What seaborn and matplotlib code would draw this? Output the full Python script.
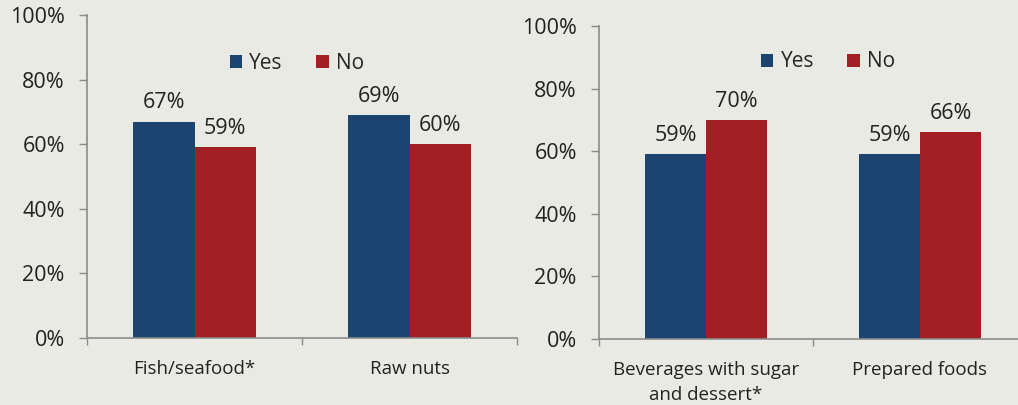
import pandas as pd
import matplotlib
matplotlib.use('Agg')
import matplotlib.pyplot as plt
import seaborn as sns

# left panel
left_categories = ['Fish/seafood*', 'Raw nuts']
left_yes = [67, 69]
left_no = [59, 60]

# right panel
right_categories = ['Beverages with sugar\nand dessert*', 'Prepared foods']
right_yes = [59, 59]
right_no = [70, 66]

groups = ['Yes', 'No']
colors = {'Yes': '#1b4471', 'No': '#a21f24'}
bg = '#e9eae4'

sns.set_theme(style='white')
plt.rcParams['font.family'] = ['Open Sans', 'DejaVu Sans']


def make_df(cats, yes, no):
    rows = []
    for c, y, n in zip(cats, yes, no):
        rows.append({'category': c, 'group': 'Yes', 'value': y})
        rows.append({'category': c, 'group': 'No', 'value': n})
    return pd.DataFrame(rows)


def draw(ax, df, legend_xy):
    ax.set_facecolor(bg)
    sns.barplot(data=df, x='category', y='value', hue='group', hue_order=groups,
                palette=colors, width=0.57, saturation=1, linewidth=0, ax=ax, legend=True)
    for cont in ax.containers:
        ax.bar_label(cont, fmt='%.0f%%', padding=6, fontsize=15.5, color='#222222')
    ax.set_ylim(0, 100)
    ax.set_xlim(-0.5, 1.5)
    ax.set_yticks(range(0, 101, 20))
    ax.set_yticklabels([f'{t}%' for t in range(0, 101, 20)], fontsize=15.5, color='#222222')
    ax.set_xticks([-0.5, 0.5, 1.5], minor=True)
    for lbl in ax.get_xticklabels():
        lbl.set_linespacing(1.45)
    ax.tick_params(axis='x', which='major', length=0, pad=16, labelsize=13.5, labelcolor='#222222')
    ax.tick_params(axis='x', which='minor', length=5, width=1, color='#8c8c8c', direction='out', bottom=True)
    ax.tick_params(axis='y', length=6, width=1, color='#8c8c8c', direction='out', left=True, pad=10)
    ax.set_xlabel('')
    ax.set_ylabel('')
    sns.despine(ax=ax)
    for s in ['left', 'bottom']:
        ax.spines[s].set_color('#8c8c8c')
        ax.spines[s].set_linewidth(1.2)
    ax.legend(loc='center', bbox_to_anchor=legend_xy, ncol=2, frameon=False,
              fontsize=15, handlelength=0.6, handleheight=0.6,
              handletextpad=0.35, columnspacing=1.6)


fig = plt.figure(figsize=(10.18, 4.05), dpi=100, facecolor=bg)
ax1 = fig.add_axes([87 / 1018, 67 / 405, 430 / 1018, 323 / 405])
ax2 = fig.add_axes([599 / 1018, 66 / 405, 428 / 1018, 313 / 405])

draw(ax1, make_df(left_categories, left_yes, left_no), (0.488, 0.851))
draw(ax2, make_df(right_categories, right_yes, right_no), (0.535, 0.885))

fig.savefig('out.png', dpi=100, facecolor=bg)
